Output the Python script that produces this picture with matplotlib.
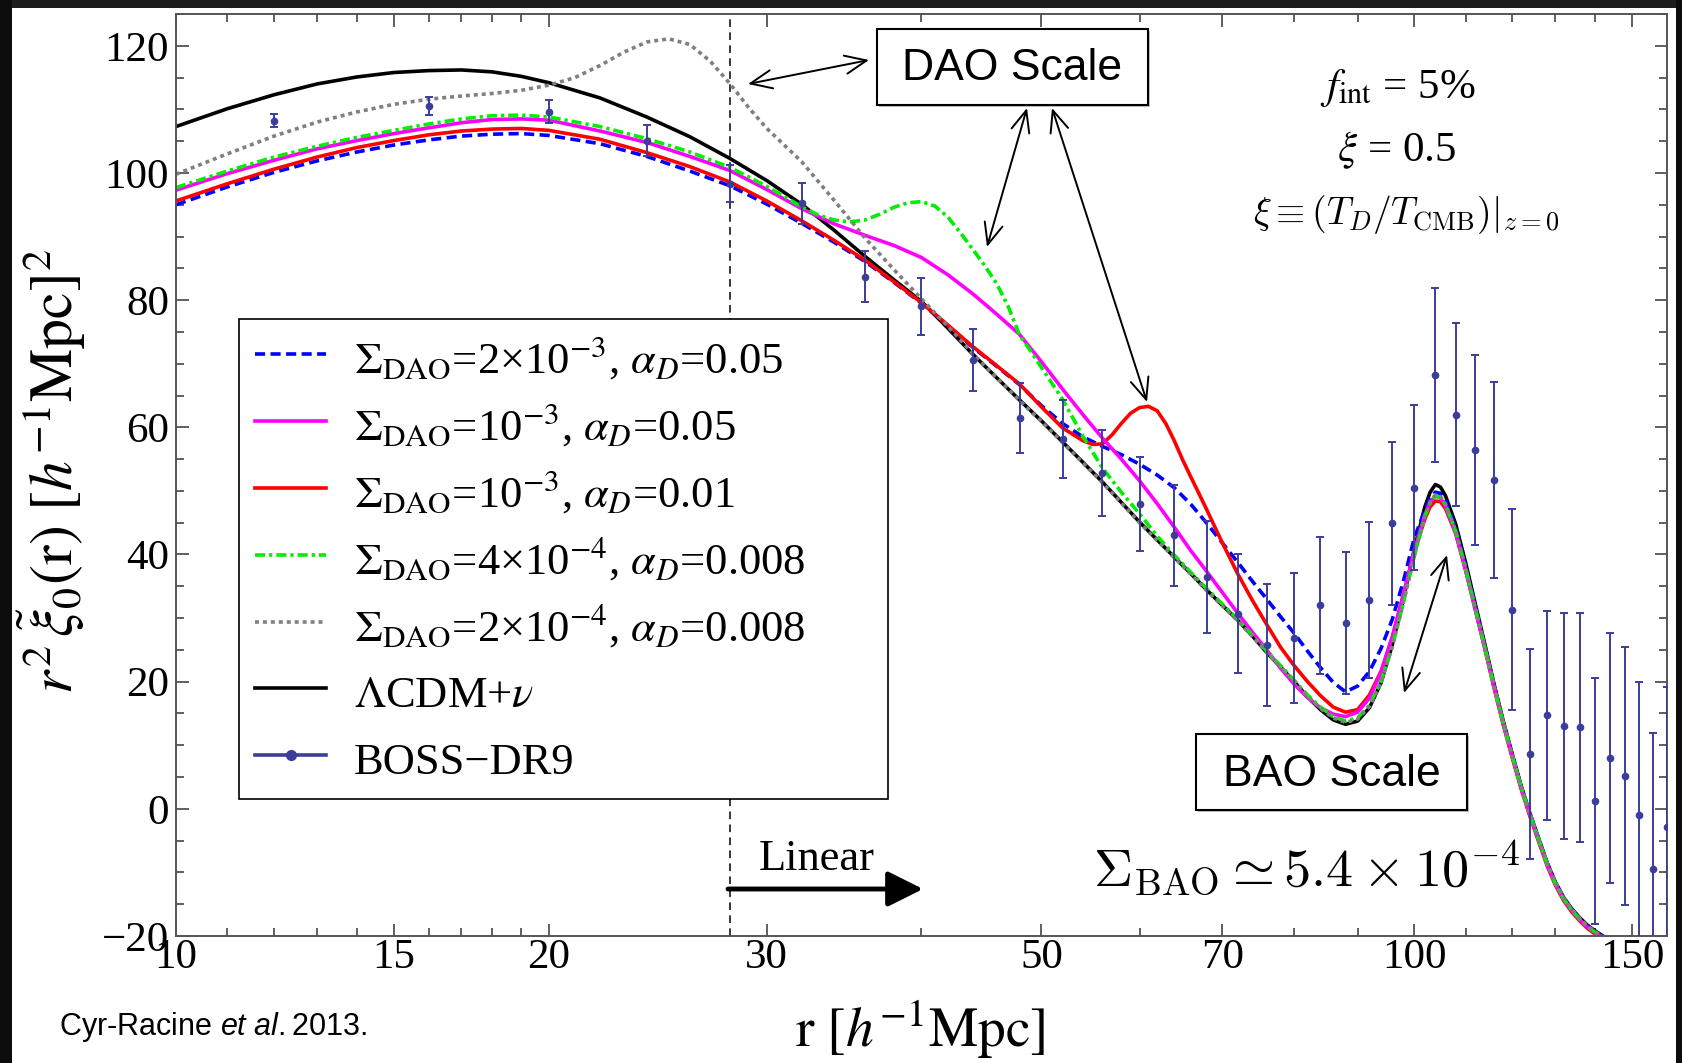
import matplotlib.pyplot as plt
from matplotlib.lines import Line2D
from matplotlib.patches import Rectangle
from matplotlib.ticker import FixedLocator, FixedFormatter, NullFormatter

plt.rcParams['font.family'] = ['Liberation Serif', 'DejaVu Serif']
plt.rcParams['mathtext.fontset'] = 'stix'
# the "custom" math set is only used for the citation line
plt.rcParams['mathtext.rm'] = 'Liberation Sans'
plt.rcParams['mathtext.it'] = 'Liberation Sans:italic'

W, H = 1683, 1063

# ---- model curves: r [h^-1 Mpc] vs r^2 xi_0(r) ----
r_grid = [10, 11, 12, 13, 14, 15, 16, 17, 18, 19, 20,
          22, 24, 26, 28, 30, 32, 34, 36, 38, 40, 42, 44, 46, 48, 50, 52, 54, 56, 58, 60,
          62, 64, 66, 68, 70, 72, 74, 76, 78, 80, 82, 84, 86, 88, 90, 92, 94, 96, 98, 100,
          102, 103, 104, 105, 106,
          108, 110, 112, 114, 116, 118, 120, 122, 124, 126, 128, 130, 132, 134, 136, 138, 140, 142, 144]

lcdm = [107.3, 110.1, 112.3, 114.0, 115.1, 115.8, 116.1, 116.2, 115.9, 115.2, 114.2,
        111.8, 108.8, 105.7, 102.3, 98.8, 95.1, 91.0, 86.9, 83.2, 79.8, 75.6, 71.5, 67.8, 64.3, 61.0, 57.7, 54.5, 51.4, 48.2, 45.1,
        42.3, 39.6, 37.0, 34.4, 32.0, 29.7, 27.2, 24.6, 22.3, 20.0, 17.6, 15.6, 14.0, 13.3, 13.8, 15.9, 19.8, 25.8, 33.0, 40.8,
        47.5, 49.8, 51.0, 50.6, 49.2,
        44.8, 38.8, 32.3, 26.0, 19.6, 13.8, 8.6, 3.6, -0.7, -4.6, -8.4, -11.5, -13.9, -15.7, -17.1, -18.3, -19.2, -20.0, -20.8]

# Sigma_DAO = 2e-3, alpha_D = 0.05
dao_2e3 = [95.0, 97.8, 100.1, 101.9, 103.3, 104.4, 105.2, 105.8, 106.1, 106.2, 105.9,
           104.6, 102.6, 100.3, 98.0, 95.1, 92.1, 89.1, 86.1, 82.8, 79.5, 76.0, 72.6, 69.6, 66.7, 63.4, 60.6, 58.5, 57.0, 55.7, 54.2,
           52.5, 50.5, 47.9, 44.9, 41.8, 38.8, 35.8, 33.0, 30.2, 27.6, 24.8, 22.2, 19.9, 18.4, 19.3, 21.6, 25.2, 29.8, 35.8, 42.6,
           47.0, 48.9, 49.8, 49.6, 48.5,
           44.2, 38.2, 31.9, 25.7, 19.4, 13.6, 8.4, 3.5, -0.8, -4.7, -8.5, -11.6, -14.0, -15.8, -17.2, -18.4, -19.3, -20.1, -20.9]

# Sigma_DAO = 1e-3, alpha_D = 0.05
dao_1e3_a05 = [97.3, 99.9, 102.0, 103.8, 105.1, 106.2, 107.1, 107.9, 108.4, 108.5, 108.3,
               106.6, 104.8, 102.6, 100.4, 97.4, 94.4, 92.0, 90.2, 88.6, 86.7, 84.0, 81.0, 77.8, 74.6, 70.3, 66.0, 62.0, 58.3, 55.0, 51.6,
               48.0, 44.3, 40.6, 37.3, 34.0, 30.8, 27.8, 25.0, 22.1, 19.6, 17.5, 15.9, 14.9, 14.5, 15.2, 17.4, 21.4, 27.0, 33.7, 40.6,
               46.2, 48.2, 49.2, 48.9, 47.6,
               43.4, 37.6, 31.4, 25.3, 19.1, 13.4, 8.2, 3.3, -1.0, -4.9, -8.7, -11.8, -14.2, -16.0, -17.4, -18.6, -19.5, -20.3, -21.1]

# Sigma_DAO = 1e-3, alpha_D = 0.01
r_red = [10, 11, 12, 13, 14, 15, 16, 17, 18, 19, 20,
         22, 24, 26, 28, 30, 32, 34, 36, 38, 40, 42, 44, 46, 48, 50, 52,
         54, 55, 56, 57, 58, 59, 60, 61, 62, 63, 64, 65, 66, 67, 68,
         70, 72, 74, 76, 78, 80, 82, 84, 86, 88, 90, 92, 94, 96, 98, 100,
         102, 103, 104, 105, 106,
         108, 110, 112, 114, 116, 118, 120, 122, 124, 126, 128, 130, 132, 134, 136, 138, 140, 142, 144]
dao_1e3_a01 = [95.6, 98.3, 100.6, 102.5, 104.0, 105.1, 106.0, 106.6, 106.9, 107.0, 106.7,
               105.3, 103.2, 101.0, 98.6, 95.6, 92.5, 89.4, 86.3, 82.9, 79.6, 76.1, 72.7, 69.7, 66.8, 63.2, 59.9,
               57.9, 57.3, 57.4, 58.8, 60.6, 62.2, 63.1, 63.3, 62.6, 60.6, 57.9, 54.9, 52.2, 49.6, 47.0,
               41.8, 37.0, 32.8, 29.0, 25.4, 22.5, 20.0, 17.8, 16.0, 15.2, 15.6, 17.9, 21.6, 27.0, 33.6, 40.4,
               45.6, 47.5, 48.4, 48.3, 47.2,
               43.3, 37.6, 31.4, 25.3, 19.0, 13.2, 8.0, 3.1, -1.2, -5.1, -8.9, -12.0, -14.4, -16.2, -17.6, -18.8, -19.7, -20.5, -21.3]

# Sigma_DAO = 4e-4, alpha_D = 0.008
r_green = [10, 11, 12, 13, 14, 15, 16, 17, 18, 19, 20,
           22, 24, 26, 28, 30, 32, 33, 34, 35, 36, 37, 38, 39, 40, 41, 42, 43, 44, 45, 46, 47, 48, 49, 50,
           52, 54, 56, 58, 60, 62, 64, 66, 68, 70,
           72, 74, 76, 78, 80, 82, 84, 86, 88, 90, 92, 94, 96, 98, 100,
           102, 103, 104, 105, 106,
           108, 110, 112, 114, 116, 118, 120, 122, 124, 126, 128, 130, 132, 134, 136, 138, 140, 142, 144]
dao_4e4 = [97.7, 100.3, 102.5, 104.2, 105.6, 106.7, 107.7, 108.5, 109.0, 109.1, 108.8,
           107.3, 105.4, 103.3, 100.9, 97.9, 94.7, 93.4, 92.6, 92.3, 92.6, 93.5, 94.6, 95.3, 95.5, 94.8, 93.1, 90.6, 88.0, 85.4, 82.6, 79.0, 74.5, 72.0, 69.4,
           64.4, 58.6, 53.6, 49.8, 46.4, 42.9, 39.9, 37.2, 34.6, 32.2,
           29.8, 27.3, 24.8, 22.5, 20.2, 17.9, 16.0, 14.5, 13.8, 14.3, 16.3, 20.0, 25.6, 32.4, 39.7,
           46.0, 48.1, 49.2, 49.0, 47.8,
           43.7, 37.9, 31.6, 25.5, 19.2, 13.5, 8.3, 3.4, -0.9, -4.8, -8.6, -11.7, -14.1, -15.9, -17.3, -18.5, -19.4, -20.2, -21.0]

# Sigma_DAO = 2e-4, alpha_D = 0.008
r_gray = [10, 11, 12, 13, 14, 15, 16, 17, 18, 19, 20, 21, 22, 23, 24, 25, 26, 27, 28, 29, 30,
          32, 34, 36, 38, 40, 42, 44, 46, 48, 50, 52, 54, 56, 58, 60, 62, 64, 66, 68, 70,
          72, 74, 76, 78, 80, 82, 84, 86, 88, 90, 92, 94, 96, 98, 100,
          102, 103, 104, 105, 106,
          108, 110, 112, 114, 116, 118, 120, 122, 124, 126, 128, 130, 132, 134, 136, 138, 140, 142, 144]
dao_2e4 = [99.8, 103.0, 105.8, 108.0, 109.6, 110.8, 111.6, 112.1, 112.5, 113.0, 113.8, 115.0, 116.9, 119.0, 120.6, 121.1, 120.2, 117.6, 114.1, 110.3, 107.0,
           101.8, 95.7, 89.8, 84.8, 80.2, 75.9, 71.6, 67.8, 64.2, 60.9, 57.6, 54.4, 51.3, 48.1, 45.0, 42.2, 39.5, 36.9, 34.3, 31.9,
           29.6, 27.1, 24.6, 22.3, 20.0, 17.7, 15.8, 14.3, 13.6, 14.1, 16.1, 19.8, 25.5, 32.4, 39.8,
           46.2, 48.3, 49.4, 49.1, 47.9,
           43.8, 38.0, 31.7, 25.6, 19.3, 13.6, 8.4, 3.5, -0.8, -4.7, -8.5, -11.6, -14.0, -15.8, -17.2, -18.4, -19.3, -20.1, -20.9]

# ---- BOSS-DR9 measurements ----
r_boss = [12, 16, 20, 24, 28, 32, 36, 40, 44, 48, 52, 56, 60, 64, 68, 72, 76, 80, 84,
          88, 92, 96, 100, 104, 108, 112, 116, 120, 124, 128, 132, 136, 140, 144, 148, 152, 156, 160]
xi_boss = [108.2, 110.5, 109.6, 105.1, 98.3, 95.2, 83.7, 79.0, 70.6, 61.5, 58.2, 52.8, 48.0, 43.0, 36.5, 30.7, 25.7, 26.9, 32.0,
           29.2, 32.8, 44.9, 50.5, 68.2, 62.0, 56.4, 51.7, 31.3, 8.6, 14.7, 13.0, 12.8, 1.2, 8.0, 5.2, -1.0, -9.4, -2.9]
err_boss = [1.0, 1.4, 1.8, 2.4, 2.9, 3.3, 4.0, 4.5, 4.9, 5.5, 6.1, 6.7, 7.4, 8.0, 8.8, 9.3, 9.6, 10.2, 10.8,
            11.2, 12.3, 12.8, 13.0, 13.7, 14.4, 14.9, 15.4, 15.8, 16.5, 16.4, 17.8, 18.0, 19.3, 19.6, 20.3, 21.0, 21.4, 22.0]

x_major = [10, 15, 20, 30, 50, 70, 100, 150]
x_minor = [11, 12, 13, 14, 16, 17, 18, 19, 40, 60, 80, 90, 110, 120, 130, 140]
y_major = [-20, 0, 20, 40, 60, 80, 100, 120]
r_linear = 28

boss_color = '#3c3d9a'


def fx(x):
    return x / W


def fy(y):
    return 1 - y / H


fig = plt.figure(figsize=(W / 100, H / 100), dpi=100)
fig.patch.set_facecolor('white')
ax = fig.add_axes([fx(176), fy(936), (1667 - 176) / W, (936 - 14) / H])

lw = 2.6
l_lcdm, = ax.plot(r_grid, lcdm, color='black', lw=lw, zorder=2)
l_blue, = ax.plot(r_grid, dao_2e3, color='#0000ff', lw=lw, ls=(0, (2.8, 1.5)), zorder=2.1)
l_red, = ax.plot(r_red, dao_1e3_a01, color='#ff0000', lw=lw, zorder=2.2)
l_mag, = ax.plot(r_grid, dao_1e3_a05, color='#ff00ff', lw=lw, zorder=2.3)
l_green, = ax.plot(r_green, dao_4e4, color='#00ee00', lw=lw, ls=(0, (2.8, 1.1, 0.9, 1.1)), zorder=2.4)
l_gray, = ax.plot(r_gray, dao_2e4, color='#808080', lw=lw, ls=(0, (1.1, 1.1)), zorder=2.5)

ax.errorbar(r_boss, xi_boss, yerr=err_boss, fmt='o', ms=4.5, color=boss_color,
            elinewidth=1.4, capsize=2.9, capthick=1.4, zorder=5)

ax.axvline(r_linear, color='black', lw=1.1, ls=(0, (5, 3.5)), zorder=1)

ax.set_xscale('log')
ax.set_xlim(10, 160)
ax.set_ylim(-20, 125)
ax.xaxis.set_major_locator(FixedLocator(x_major))
ax.xaxis.set_major_formatter(FixedFormatter([str(v) for v in x_major]))
ax.xaxis.set_minor_locator(FixedLocator(x_minor))
ax.xaxis.set_minor_formatter(NullFormatter())
ax.yaxis.set_major_locator(FixedLocator(y_major))
ax.yaxis.set_minor_locator(FixedLocator(range(-20, 126, 5)))
ax.tick_params(which='both', direction='in', top=True, right=True, color='#444444', width=1.2)
ax.tick_params(which='major', length=9, labelsize=31)
ax.tick_params(which='minor', length=5.5)
ax.tick_params(axis='x', pad=2)
ax.tick_params(axis='y', pad=5)
for sp in ax.spines.values():
    sp.set_color('#555555')
    sp.set_linewidth(1.4)

# legend
boss_handle = Line2D([], [], color=boss_color, marker='o', ms=7, lw=2.6)
handles = [l_blue, l_mag, l_red, l_green, l_gray, l_lcdm, boss_handle]
labels = [r'$\Sigma_{\rm DAO}$=2×10$^{-3}$, $\alpha_D$=0.05',
          r'$\Sigma_{\rm DAO}$=10$^{-3}$, $\alpha_D$=0.05',
          r'$\Sigma_{\rm DAO}$=10$^{-3}$, $\alpha_D$=0.01',
          r'$\Sigma_{\rm DAO}$=4×10$^{-4}$, $\alpha_D$=0.008',
          r'$\Sigma_{\rm DAO}$=2×10$^{-4}$, $\alpha_D$=0.008',
          r'$\Lambda$CDM+$\nu$',
          'BOSS−DR9']
leg = ax.legend(handles, labels, loc='upper left', mode='expand',
                bbox_to_anchor=(fx(239), fy(799), (888 - 239) / W, (799 - 319) / H),
                bbox_transform=fig.transFigure, borderaxespad=0, borderpad=0.36,
                fontsize=32, handlelength=1.6, handletextpad=0.62, handleheight=1.2,
                labelspacing=0.45, fancybox=False, framealpha=1, edgecolor='black')
leg.get_frame().set_linewidth(1.2)
leg.set_zorder(6)

# axis labels
fig.text(fx(52), fy(472), r'$r^2\,\tilde{\xi}_0(\mathrm{r})\ [h^{-1}\mathrm{Mpc}]^2$',
         rotation=90, ha='center', va='center', fontsize=43)
fig.text(fx(920), fy(1029), r'$\mathrm{r}\ [h^{-1}\mathrm{Mpc}]$',
         ha='center', va='center', fontsize=40)

# labelled boxes
for (x0, y0, x1, y1), txt in [((877, 29, 1148, 105), 'DAO Scale'),
                              ((1196, 734, 1467, 810), 'BAO Scale')]:
    fig.add_artist(Rectangle((fx(x0) + 2 / W, fy(y1) - 2 / H), (x1 - x0) / W, (y1 - y0) / H,
                             transform=fig.transFigure, facecolor='#9a9a9a', edgecolor='none',
                             alpha=0.6, zorder=2))
    fig.add_artist(Rectangle((fx(x0), fy(y1)), (x1 - x0) / W, (y1 - y0) / H,
                             transform=fig.transFigure, facecolor='white', edgecolor='black',
                             lw=1.5, zorder=2))
    fig.text(fx((x0 + x1) / 2), fy((y0 + y1) / 2 + 2), txt, family='Liberation Sans',
             fontsize=32, ha='center', va='center', zorder=3)

# parameter block
fig.text(fx(1398), fy(88), r'$f_{\rm int}$ = 5%', fontsize=31, ha='center', va='center')
fig.text(fx(1397), fy(150), r'$\xi$ = 0.5', fontsize=31, ha='center', va='center')
fig.text(fx(1406), fy(214), r'$\xi \equiv (T_D/T_{\rm CMB})|_{z=0}$', fontsize=27,
         ha='center', va='center', math_fontfamily='cm')
fig.text(fx(1306), fy(868), r'$\Sigma_{\rm BAO} \simeq 5.4 \times 10^{-4}$', fontsize=39,
         ha='center', va='center', math_fontfamily='cm')

# linear regime marker
fig.text(fx(817), fy(859), 'Linear', fontsize=32, ha='center', va='center')
ax.annotate('', xy=(923, H - 889), xytext=(728, H - 889),
            xycoords='figure pixels', textcoords='figure pixels',
            arrowprops=dict(arrowstyle='-|>,head_length=0.9,head_width=0.45', lw=3.5,
                            color='black', shrinkA=0, shrinkB=0, mutation_scale=24))

# double-headed pointers
for (xa, ya), (xb, yb) in [((869, 60), (748, 84)),
                           ((1027, 108), (987, 247)),
                           ((1052, 108), (1147, 402)),
                           ((1447, 555), (1404, 693))]:
    ax.annotate('', xy=(xb, H - yb), xytext=(xa, H - ya),
                xycoords='figure pixels', textcoords='figure pixels',
                arrowprops=dict(arrowstyle='<->,head_length=0.7,head_width=0.3', lw=1.4,
                                color='black', shrinkA=0, shrinkB=0, mutation_scale=22))

fig.text(fx(59), fy(1027), r'Cyr-Racine $et\ al.$2013.', family='Liberation Sans',
         fontsize=22, ha='left', va='center', math_fontfamily='custom')

# dark outer frame
fig.add_artist(Rectangle((0, fy(7.5)), 1, 7.5 / H, transform=fig.transFigure,
                         facecolor='#1c1c1c', edgecolor='none', zorder=10))
fig.add_artist(Rectangle((0, 0), 12 / W, 1, transform=fig.transFigure,
                         facecolor='#0c0c0c', edgecolor='none', zorder=10))
fig.add_artist(Rectangle((fx(1676), 0), 7 / W, 1, transform=fig.transFigure,
                         facecolor='#0c0c0c', edgecolor='none', zorder=10))

fig.savefig('out.png', dpi=100)
